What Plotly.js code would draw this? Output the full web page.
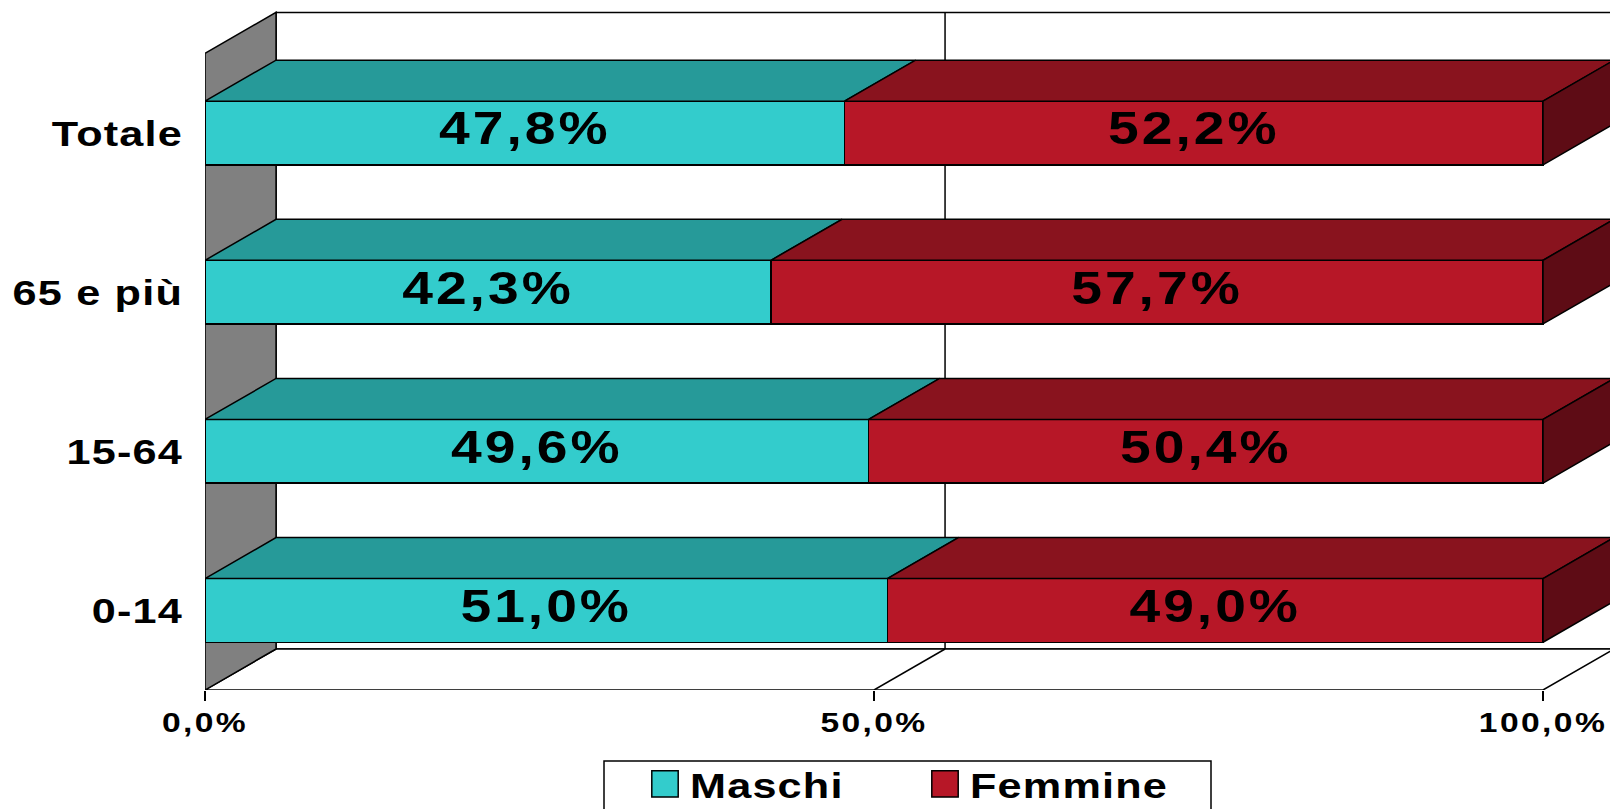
<!DOCTYPE html>
<html>
<head>
<meta charset="utf-8">
<script src="https://cdn.plot.ly/plotly-3.0.1.min.js"></script>
<style>
  html, body { margin: 0; padding: 0; background: #ffffff; }
  #chart { width: 1610px; height: 809px; }
  g.ytick { transform-box: fill-box; transform-origin: right center; transform: scaleX(1.2); }
  g.ytick text { letter-spacing: 1px; }
  g.xtick { transform-box: fill-box; transform-origin: center center; transform: translate(0px, -3px) scaleX(1.2); }
  g.xtick text { letter-spacing: 2px; }
  g.textpoint { transform-box: fill-box; transform-origin: center center; transform: translate(0px, 11.5px) scaleX(1.2); }
  g.textpoint text { letter-spacing: 2.5px; }
  text.legendtext { letter-spacing: 1px; transform-box: fill-box; transform-origin: left center; transform: scaleX(1.2); }
  .legend .legendpoints path { transform: translate(25px, 0px) scale(2.2); vector-effect: non-scaling-stroke; }
</style>
</head>
<body>
<div id="chart"></div>
<script>
// ---- data ----
const categories = ['0-14', '15-64', '65 e più', 'Totale'];
const maschi = [51.0, 49.6, 42.3, 47.8];
const femmine = [49.0, 50.4, 57.7, 52.2];
const seriesNames = ['Maschi', 'Femmine'];
const xTickVals = [0, 50, 100];
const xTickLabels = ['0,0%', '50,0%', '100,0%'];

// ---- styling / geometry (not data) ----
const FONT = 'Liberation Sans, Arial, sans-serif';
const DX = 5.31;      // oblique depth in x units
const DY = 0.2575;    // oblique depth in y units
const BAR_W = 0.4;
const Y_LO = -0.5, Y_HI = categories.length - 0.5;
const C_M = '#33CCCC', C_M_TOP = '#269A99';
const C_F = '#B71727', C_F_TOP = '#89131E', C_F_SIDE = '#5E0C15';
const LINE = {color: '#000000', width: 1.5};

const yPos = categories.map((c, i) => i);
const fmt = v => v.toFixed(1).replace('.', ',') + '%';

// polygons for the 3D faces, computed from the data
function faces(fn) {
  const xs = [], ys = [];
  yPos.forEach((y, i) => {
    const pts = fn(i, y);
    pts.forEach(p => { xs.push(p[0]); ys.push(p[1]); });
    xs.push(pts[0][0]); ys.push(pts[0][1]);
    xs.push(null); ys.push(null);
  });
  return {xs, ys};
}
const mTop = faces((i, y) => {
  const y1 = y + BAR_W / 2, m = maschi[i];
  return [[0, y1], [m, y1], [m + DX, y1 + DY], [DX, y1 + DY]];
});
const fTop = faces((i, y) => {
  const y1 = y + BAR_W / 2, m = maschi[i], e = maschi[i] + femmine[i];
  return [[m, y1], [e, y1], [e + DX, y1 + DY], [m + DX, y1 + DY]];
});
const fSide = faces((i, y) => {
  const y0 = y - BAR_W / 2, y1 = y + BAR_W / 2, e = maschi[i] + femmine[i];
  return [[e, y0], [e, y1], [e + DX, y1 + DY], [e + DX, y0 + DY]];
});

const traces = [
  {type: 'bar', orientation: 'h', name: seriesNames[0], y: yPos, x: maschi, width: BAR_W,
   marker: {color: C_M, line: LINE}, hoverinfo: 'skip'},
  {type: 'bar', orientation: 'h', name: seriesNames[1], y: yPos, x: femmine, width: BAR_W,
   marker: {color: C_F, line: LINE}, hoverinfo: 'skip'},
  {type: 'scatter', mode: 'lines', x: mTop.xs, y: mTop.ys, fill: 'toself', fillcolor: C_M_TOP,
   line: LINE, showlegend: false, hoverinfo: 'skip'},
  {type: 'scatter', mode: 'lines', x: fTop.xs, y: fTop.ys, fill: 'toself', fillcolor: C_F_TOP,
   line: LINE, showlegend: false, hoverinfo: 'skip'},
  {type: 'scatter', mode: 'lines', x: fSide.xs, y: fSide.ys, fill: 'toself', fillcolor: C_F_SIDE,
   line: LINE, showlegend: false, hoverinfo: 'skip'},
  {type: 'scatter', mode: 'text', showlegend: false, hoverinfo: 'skip',
   x: maschi.map(v => v / 2).concat(maschi.map((v, i) => v + femmine[i] / 2)),
   y: yPos.concat(yPos),
   text: maschi.map(fmt).concat(femmine.map(fmt)),
   textposition: 'middle center',
   textfont: {family: FONT, size: 46, weight: 'bold', color: '#000000'}}
];

const W = 1610, H = 809, ML = 205, MB = 119;
const plotW = W - ML, plotH = H - MB;
const pxPerX = 13.38, pxPerY = 159.15;
const xRange = [0, plotW / pxPerX];
const yRange = [Y_LO, Y_LO + plotH / pxPerY];

const path = pts => 'M ' + pts.map(p => p[0] + ',' + p[1]).join(' L ') + ' Z';
const boundaries = categories.map((c, i) => i - 0.5).concat([Y_HI]);

const shapes = [
  // back wall
  {type: 'path', xref: 'x', yref: 'y', layer: 'below', fillcolor: '#ffffff', line: LINE,
   path: path([[DX, Y_LO + DY], [100 + DX, Y_LO + DY], [100 + DX, Y_HI + DY], [DX, Y_HI + DY]])},
  // back wall gridline at 50%
  {type: 'line', xref: 'x', yref: 'y', layer: 'below', line: LINE,
   x0: 50 + DX, x1: 50 + DX, y0: Y_LO + DY, y1: Y_HI + DY},
  // floor
  {type: 'path', xref: 'x', yref: 'y', layer: 'below', fillcolor: '#ffffff', line: LINE,
   path: path([[0, Y_LO], [100, Y_LO], [100 + DX, Y_LO + DY], [DX, Y_LO + DY]])},
  // floor gridline at 50%
  {type: 'line', xref: 'x', yref: 'y', layer: 'below', line: LINE,
   x0: 50, x1: 50 + DX, y0: Y_LO, y1: Y_LO + DY},
  // left wall
  {type: 'path', xref: 'x', yref: 'y', layer: 'below', fillcolor: '#808080', line: LINE,
   path: path([[0, Y_LO], [0, Y_HI], [DX, Y_HI + DY], [DX, Y_LO + DY]])},
  // legend frame
  {type: 'rect', xref: 'paper', yref: 'paper', layer: 'below', fillcolor: '#ffffff', line: LINE,
   x0: (604 - ML) / plotW, x1: (1211 - ML) / plotW, y0: -(761 - plotH) / plotH, y1: -(840 - plotH) / plotH}
];

const layout = {
  width: W, height: H,
  margin: {l: ML, r: 0, t: 0, b: MB, pad: 0, autoexpand: false},
  paper_bgcolor: '#ffffff', plot_bgcolor: 'rgba(0,0,0,0)',
  barmode: 'stack',
  showlegend: true,
  xaxis: {range: xRange, tickmode: 'array', tickvals: xTickVals, ticktext: xTickLabels,
          ticks: 'outside', ticklen: 10, tickwidth: 1.5, tickcolor: '#000000',
          showgrid: false, zeroline: false, showline: false, fixedrange: true,
          ticklabelstandoff: 0,
          tickfont: {family: FONT, size: 28, weight: 'bold', color: '#000000'}},
  yaxis: {range: yRange, tickmode: 'array', tickvals: yPos, ticktext: categories,
          ticks: '', showgrid: false, zeroline: false, showline: false, fixedrange: true,
          ticklabelstandoff: 21,
          tickfont: {family: FONT, size: 36, weight: 'bold', color: '#000000'}},
  yaxis2: {range: yRange, overlaying: 'y', side: 'left', anchor: 'x', tickmode: 'array',
           tickvals: boundaries, showticklabels: false, ticks: 'outside', ticklen: 13,
           tickwidth: 1.5, tickcolor: '#000000', showgrid: false, zeroline: false,
           showline: false, fixedrange: true},
  legend: {orientation: 'h', x: (640 - ML) / plotW, xanchor: 'left', y: -(754 - plotH) / plotH,
           yanchor: 'top', bgcolor: 'rgba(0,0,0,0)', borderwidth: 0, itemwidth: 40,
           entrywidth: 225, entrywidthmode: 'pixels', traceorder: 'normal',
           font: {family: FONT, size: 36, weight: 'bold', color: '#000000'}},
  shapes: shapes
};

Plotly.newPlot('chart', traces, layout, {staticPlot: true, displayModeBar: false});
</script>
</body>
</html>
